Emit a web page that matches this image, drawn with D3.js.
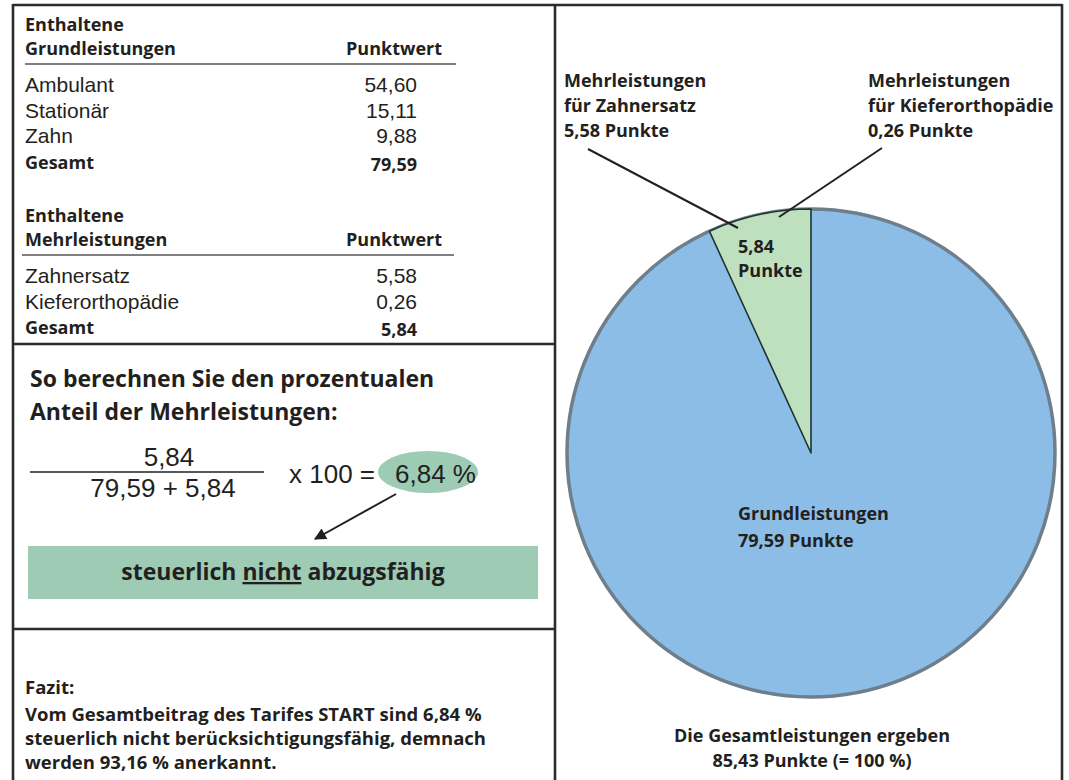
<!DOCTYPE html>
<meta charset="utf-8">
<head>
<style>
body{ margin:0; background:#fff; }
text{ fill:#231f20; }
.b{ font-family:"Open Sans",sans-serif; font-weight:700; }
.r{ font-family:"Liberation Sans",Arial,sans-serif; font-weight:400; }
.frame line{ stroke:#2b2b2b; stroke-width:2.6px; }
.rule{ stroke:#555; stroke-width:1.5px; }
</style>
</head>
<body>
<script src="https://cdn.jsdelivr.net/npm/d3@7"></script>
<script>

// table data
var grundLabels = ["Ambulant","Stationär","Zahn"];
var grundValues = [54.60, 15.11, 9.88];
var mehrLabels = ["Zahnersatz","Kieferorthopädie"];
var mehrValues = [5.58, 0.26];
var pieLabels = ["Grundleistungen","Mehrleistungen"];
var pieColors = ["#8bbde6","#bfe0bf"];

var de = d3.formatLocale({decimal:",", thousands:".", grouping:[3], currency:["","€"]});
var f2 = de.format(".2f");

var grundSum = +d3.sum(grundValues).toFixed(2);
var mehrSum = +d3.sum(mehrValues).toFixed(2);
var total = grundSum + mehrSum;
var pct = mehrSum / total * 100;

var svg = d3.select("body").append("svg").attr("width",1069).attr("height",780);

// frame
var fr = svg.append("g").attr("class","frame");
[[13,5,1062,5],[13,4,13,780],[1062,4,1062,780],[555,5,555,780],[13,344,555,344],[13,629,555,629]]
  .forEach(function(l){
    fr.append("line").attr("x1",l[0]).attr("y1",l[1]).attr("x2",l[2]).attr("y2",l[3]);
  });

// tables
function table(top, title, labels, values, lineX){
  var g = svg.append("g");
  g.append("text").attr("class","b").attr("x",25).attr("y",top).style("font-size","18px").text("Enthaltene");
  g.append("text").attr("class","b").attr("x",25).attr("y",top+24).style("font-size","18px").text(title);
  g.append("text").attr("class","b").attr("x",442).attr("y",top+24).attr("text-anchor","end").style("font-size","18px").text("Punktwert");
  g.append("line").attr("class","rule").attr("x1",lineX[0]).attr("x2",lineX[1]).attr("y1",top+33).attr("y2",top+33);

  var rows = labels.concat(["Gesamt"]);
  var vals = values.concat([+d3.sum(values).toFixed(2)]);
  var y = d3.scaleLinear().domain([0,1]).range([top+61, top+86.5]);

  rows.forEach(function(lab,i){
    var last = i==rows.length-1;
    g.append("text").attr("class", last? "b":"r").attr("x",25).attr("y",y(i))
      .style("font-size", last? "18px":"21px").text(lab);
    g.append("text").attr("class", last? "b":"r").attr("x",417).attr("y",y(i)+(last?2:0))
      .attr("text-anchor","end").style("font-size", last? "18px":"21px").text(f2(vals[i]));
  });
}
table(31, "Grundleistungen", grundLabels, grundValues, [25,456]);
table(222, "Mehrleistungen", mehrLabels, mehrValues, [22,454]);

// calculation
svg.append("text").attr("class","b").attr("x",30).attr("y",387).style("font-size","23px").text("So berechnen Sie den prozentualen");
svg.append("text").attr("class","b").attr("x",30).attr("y",420).style("font-size","23px").text("Anteil der Mehrleistungen:");

svg.append("ellipse").attr("cx",428).attr("cy",472).attr("rx",50).attr("ry",21).attr("fill","#9dcbb3");
svg.append("text").attr("class","r").attr("x",169).attr("y",466).attr("text-anchor","middle").style("font-size","26px").text(f2(mehrSum));
svg.append("line").attr("x1",30).attr("x2",264).attr("y1",472).attr("y2",472).attr("stroke","#231f20").attr("stroke-width",1.3);
svg.append("text").attr("class","r").attr("x",163).attr("y",497).attr("text-anchor","middle").style("font-size","26px")
  .text(f2(grundSum)+" + "+f2(mehrSum));
svg.append("text").attr("class","r").attr("x",289).attr("y",483).style("font-size","26px").text("x 100 =");
svg.append("text").attr("class","r").attr("x",395).attr("y",483).style("font-size","26px").text(f2(pct)+" %");

svg.append("defs").append("marker").attr("id","arr").attr("viewBox","0 0 10 10")
  .attr("refX",9).attr("refY",5).attr("markerWidth",7).attr("markerHeight",7)
  .attr("markerUnits","userSpaceOnUse").attr("orient","auto")
  .append("path").attr("d","M0,0 L10,5 L0,10 z").attr("fill","#231f20");
svg.select("marker").attr("markerWidth",16).attr("markerHeight",12);
svg.append("line").attr("x1",396).attr("y1",494).attr("x2",315).attr("y2",539)
  .attr("stroke","#231f20").attr("stroke-width",2).attr("marker-end","url(#arr)");

svg.append("rect").attr("x",28).attr("y",546).attr("width",510).attr("height",53).attr("fill","#9dcbb3");
var st = svg.append("text").attr("class","b").attr("x",283).attr("y",580).attr("text-anchor","middle").style("font-size","23px");
st.append("tspan").text("steuerlich ");
st.append("tspan").style("text-decoration","underline").text("nicht");
st.append("tspan").text(" abzugsfähig");

// conclusion
var fazit = ["Fazit:",
  "Vom Gesamtbeitrag des Tarifes START sind "+f2(pct)+" %",
  "steuerlich nicht berücksichtigungsfähig, demnach",
  "werden "+f2(100-pct)+" % anerkannt."];
var fy = [694,721,745,769];
fazit.forEach(function(t,i){
  svg.append("text").attr("class","b").attr("x",25).attr("y",fy[i]).style("font-size","18.5px").text(t);
});

// pie
var cx = 811, cy = 453, R = 244;
var pie = d3.pie().sort(null).value(function(d){return d;});
var arc = d3.arc().innerRadius(0).outerRadius(R);
var arcs = pie([grundSum, mehrSum]);
var pg = svg.append("g").attr("transform","translate("+cx+","+cy+")");
pg.append("circle").attr("r",R).attr("fill",pieColors[0]).attr("stroke","#6e7e8b").attr("stroke-width",3.5);
pg.append("path").attr("d",arc(arcs[1])).attr("fill",pieColors[1]).attr("stroke","#1f3434").attr("stroke-width",1.6)
  .attr("stroke-linejoin","round");

// slice labels
function lines(x, ys, arr, anchor){
  arr.forEach(function(t,i){
    svg.append("text").attr("class","b").attr("x",x).attr("y",ys[i]).attr("text-anchor",anchor||"start")
      .style("font-size","18px").text(t);
  });
}
lines(564,[87,112,137],["Mehrleistungen","für "+mehrLabels[0],f2(mehrValues[0])+" Punkte"]);
lines(868,[87,112,137],["Mehrleistungen","für "+mehrLabels[1],f2(mehrValues[1])+" Punkte"]);
svg.append("line").attr("x1",588).attr("y1",149).attr("x2",738).attr("y2",228).attr("stroke","#231f20").attr("stroke-width",2);
svg.append("line").attr("x1",882).attr("y1",148).attr("x2",779).attr("y2",217).attr("stroke","#231f20").attr("stroke-width",2);
lines(738,[253,277],[f2(mehrSum),"Punkte"]);
lines(738,[520,547],[pieLabels[0],f2(grundSum)+" Punkte"]);
lines(812,[742,767],["Die Gesamtleistungen ergeben",f2(total)+" Punkte (= 100 %)"],"middle");

</script>
</body>
</html>
